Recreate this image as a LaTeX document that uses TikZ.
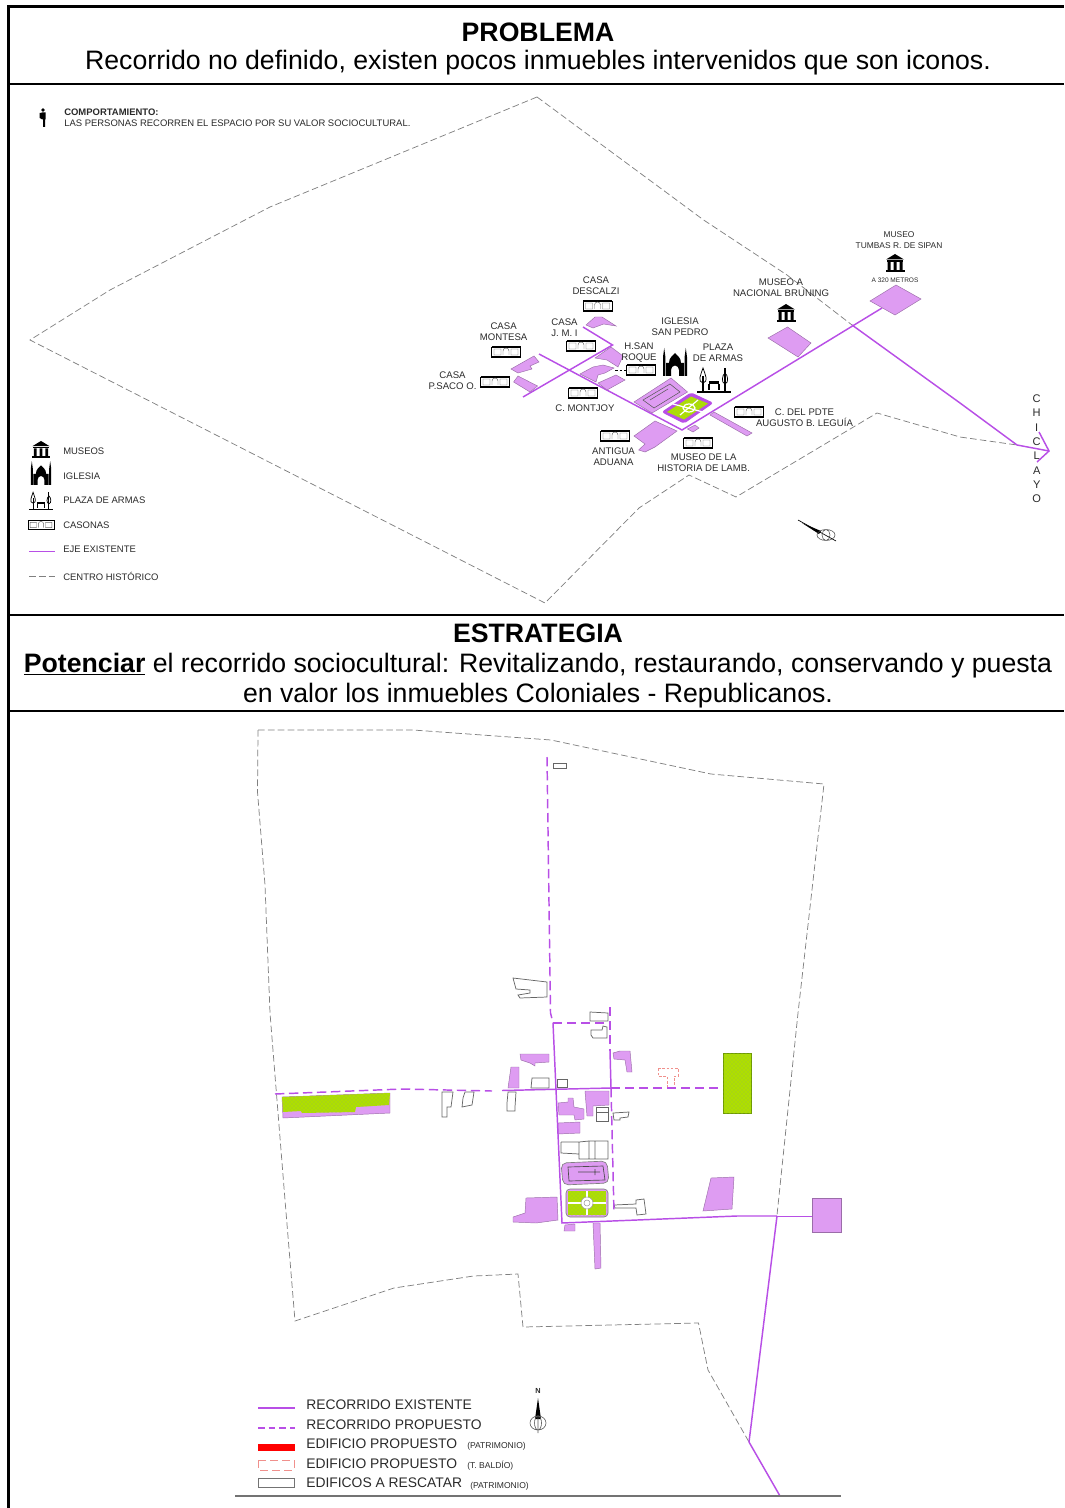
\documentclass[tikz,border=0pt]{standalone}
\usepackage{fontspec}
\setmainfont{Liberation Sans}
\usetikzlibrary{patterns}
\definecolor{viol}{HTML}{B84FE6}
\definecolor{lila}{HTML}{DE9CF2}
\definecolor{lima}{HTML}{AEE000}
\definecolor{limad}{HTML}{6E9A00}
\definecolor{rosa}{HTML}{F0908C}
\definecolor{tinta}{HTML}{2A2A2A}
\tikzset{
 rule/.style={black,line width=1.6pt},
 head/.style={inner sep=0pt,font=\fontsize{20}{22.7}\selectfont,align=center,text=black},
 lab/.style={inner sep=0pt,font=\fontsize{7.2}{8.5}\selectfont,align=center,text=tinta},
 leg/.style={inner sep=0pt,anchor=west,font=\fontsize{7.1}{8}\selectfont,text=tinta},
 legb/.style={inner sep=0pt,anchor=west,font=\fontsize{10.4}{12}\selectfont,text=tinta},
 legs/.style={inner sep=0pt,anchor=west,font=\fontsize{6.4}{7}\selectfont,text=tinta},
 limite/.style={draw=black!50,line width=.55pt,dash pattern=on 5pt off 2.4pt},
 eje/.style={draw=viol,line width=1.1pt},
 prop/.style={draw=viol,line width=1.1pt,dash pattern=on 7pt off 3.5pt},
 bloque/.style={fill=lila,draw=lila!70!black,line width=.35pt},
 hueco/.style={fill=white,draw=black!60,line width=.55pt},
 verde/.style={fill=lima,draw=limad,line width=.4pt},
 grano/.style={pattern=crosshatch dots,pattern color=limad!70},
 pics/casona/.style={code={
   \draw[black,line width=.45pt,fill=white] (-14.5,-5) rectangle (14.5,5);
   \draw[black,line width=.8pt] (-14.5,-5)--(14.5,-5) (-14.5,5)--(14.5,5);
   \draw[black!60,line width=.35pt] (-12,-3) rectangle (-5,3) (-3,3)--(-3,-1) arc (180:0:3 and -3)--(3,3) (5,-3) rectangle (12,3);
 }},
 pics/museo/.style={code={
   \fill[black] (-9,-3.5)--(0,-9)--(9,-3.5)--cycle;
   \fill[black] (-9.5,7) rectangle (9.5,9);
   \fill[black] (-8,-2.5) rectangle (8,-1.3);
   \fill[black] (-7.5,-1.3) rectangle (-4.5,7) (-1.5,-1.3) rectangle (1.5,7) (4.5,-1.3) rectangle (7.5,7);
 }},
 pics/iglesia/.style={code={
   \fill[black] (-12,14)--(-12,-5)--(-10.8,-14)--(-9.6,-5)--(-9.6,14)--cycle;
   \fill[black] (12,14)--(12,-5)--(10.8,-14)--(9.6,-5)--(9.6,14)--cycle;
   \fill[black] (-9,14)--(-9,1)--(-6,1) .. controls (-6,-5) and (-2,-6) .. (0,-9)
     .. controls (2,-6) and (6,-5) .. (6,1)--(9,1)--(9,14)--(4,14)--(4,8) arc (0:-180:4 and 4.5)--(-4,14)--cycle;
 }},
 pics/plaza/.style={code={
   \draw[black,line width=.55pt] (-11,3) .. controls (-17,2) and (-13,-6) .. (-11,-12) .. controls (-9,-6) and (-5,2) .. (-11,3);
   \draw[black,line width=.8pt] (-11,-4)--(-11,12);
   \draw[black,line width=.55pt] (11,4) .. controls (7,3) and (8,-5) .. (11,-7) .. controls (14,-5) and (15,3) .. (11,4);
   \draw[black,line width=.8pt] (11,-12)--(11,12);
   \fill[black] (-5,1) rectangle (5,4.5);
   \draw[black,line width=.8pt] (-5,4)--(-5,10) (5,4)--(5,10);
   \draw[black,line width=.9pt] (-17,12)--(17,12);
 }},
}
\begin{document}
\begin{tikzpicture}[x=.75pt,y=-.75pt]
\useasboundingbox (0,0) rectangle (1064,1508);
% ------------- frame
\draw[black,line width=2.3pt] (8.5,1508)--(8.5,6.5)--(1064,6.5);
\draw[rule] (8,84)--(1064,84) (8,615)--(1064,615) (8,711)--(1064,711);
% ------------- headers
\node[head] (t1) at (538,32) {\textbf{PROBLEMA}};
\node[head] (t2) at (538,62.5) {Recorrido no definido, existen pocos inmuebles intervenidos que son iconos.};
\node[head] (t3) at (538,633) {\textbf{ESTRATEGIA}};
\node[head] (t4) at (538,680.5) {\underline{\textbf{Potenciar}} el recorrido sociocultural: Revitalizando, restaurando, conservando y puesta\\en valor los inmuebles Coloniales - Republicanos.};
% ------------- upper map: limit
\draw[limite] (537,97)--(703.6,220)--(787,275)--(852,325);
\draw[limite] (537,97)--(270,207)--(110,290)--(30,340)--(545,603)--(639,508)--(689,475)--(736,497)--(877,413)--(960,437)--(1017,445);
% upper map: axes
\draw[eje] (882,308)--(682,430)--(539,354);
\draw[eje] (523,397)--(612.5,345)--(583,327);
\draw[eje] (852,325)--(960,403)--(1017,445)--(1049,451);
\draw[eje] (1039,432)--(1049,451)--(1037,462);
% upper map: buildings
\draw[bloque] (896,285)--(921,299)--(895,315)--(870,301)--cycle;
\draw[bloque] (787.5,327)--(811,343)--(798,357)--(768,338)--cycle;
\draw[bloque] (511,369)--(534,356)--(539,362)--(530,366)--(532,369)--(518,373)--cycle;
\draw[bloque] (518,376)--(537.5,386)--(530,392)--(513.6,382)--cycle;
\draw[bloque] (586,325)--(595,317)--(602,317)--(616,326)--(603.6,324)--(593,328)--cycle;
\draw[bloque] (595,358)--(611,347)--(623,356)--(618,367)--(607,360)--cycle;
\draw[bloque] (580,374)--(593,367)--(603,365)--(614,368)--(605,373)--(598,375)--(596,382)--cycle;
\draw[bloque] (598,383)--(616,375)--(625,380)--(607,390)--cycle;
\draw[bloque] (634,402)--(671,378)--(687.5,392)--(652,413)--cycle;
\draw[black!65,line width=.4pt] (643,400)--(670,384)--(680,392)--(654,408)--cycle (650,400)--(668,389);
\draw[viol,fill=viol,line width=.8pt,rounded corners=1.5pt] (662.5,412)--(691,393)--(712.5,403)--(684,423)--cycle;
\path[fill=lima] (667,412)--(691,396.5)--(708,403.5)--(684,419.5)--cycle;
\path[grano] (667,412)--(691,396.5)--(708,403.5)--(684,419.5)--cycle;
\draw[white,line width=.9pt] (689,408) ellipse (6 and 4) (673,404)--(703,412) (680,415)--(698,400);
\draw[bloque] (634,436)--(655,421)--(677,431)--(655,447)--(645,452)--(638.6,450)--(645,444)--cycle;
\draw[bloque] (687.5,429)--(695,425)--(699,428)--(693,432)--cycle;
\draw[bloque] (710,415)--(714,412)--(752,433)--(747,436)--cycle;
% upper map: icons
\pic at (597.5,306) {casona};
\pic at (581,346) {casona};
\pic at (506,352) {casona};
\pic at (495,382) {casona};
\pic at (583,393) {casona};
\pic at (641,370) {casona};
\pic at (749,412) {casona};
\pic at (615,436) {casona};
\pic at (698,443) {casona};
\draw[black,line width=.45pt,dash pattern=on 2pt off 1.5pt] (615,370)--(626,370);
\pic at (675,362) {iglesia};
\pic at (714,380) {plaza};
\pic at (786,313) {museo};
\pic at (895,263) {museo};
% upper map: labels
\node[lab] (n1) at (596,285.5) {CASA\\DESCALZI};
\node[lab] (n2) at (564.5,327.5) {CASA\\J. M. I};
\node[lab] (n3) at (503.6,331.5) {CASA\\MONTESA};
\node[lab] (n4) at (452.5,381) {CASA\\P.SACO O.};
\node[lab] (n5) at (585,408) {C. MONTJOY};
\node[lab] (n6) at (639,352.5) {H.SAN\\ROQUE};
\node[lab] (n7) at (680,326.5) {IGLESIA\\SAN PEDRO};
\node[lab] (n8) at (718,353) {PLAZA\\DE ARMAS};
\node[lab] (n9) at (781,288) {MUSEO A\\NACIONAL BRUNING};
\node[lab,font=\fontsize{6.3}{7.7}\selectfont] (n10) at (899,240) {MUSEO\\TUMBAS R. DE SIPAN};
\node[lab,font=\fontsize{4.9}{6}\selectfont] (n11) at (895,280) {A 320 METROS};
\node[lab] (n12) at (804.5,417.5) {C. DEL PDTE\\AUGUSTO B. LEGUÍA};
\node[lab] (n13) at (613.5,456.5) {ANTIGUA\\ADUANA};
\node[lab] (n14) at (703.6,462.5) {MUSEO DE LA\\HISTORIA DE LAMB.};
\node[inner sep=0pt,align=center,font=\fontsize{8.3}{10.75}\selectfont,text=tinta] (n15) at (1036.7,449) {C\\H\\I\\C\\L\\A\\Y\\O};
% upper map: compass
\draw[black,line width=.5pt] (798,520)--(836,541);
\fill[black] (802,523)--(821,531)--(819,534)--cycle;
\draw[black!70,line width=.4pt] (826,535) ellipse (9 and 5.5) (826,535) ellipse (4 and 5.5);
% upper map: behaviour note
\fill[black] (43,110) circle (1.8);
\fill[black] (41.5,112.5) rectangle (45.5,119.5) (39.5,113)--(41.5,113)--(41.5,119)--(39.5,118)--cycle (43,119) rectangle (45,127);
\node[leg,font=\fontsize{7.1}{8}\selectfont\bfseries] (c1) at (64,112) {COMPORTAMIENTO:};
\node[leg] (c2) at (64,123.5) {LAS PERSONAS RECORREN EL ESPACIO POR SU VALOR SOCIOCULTURAL.};
% upper map: legend
\pic[scale=.95] at (41,449.5) {museo};
\pic[scale=.85] at (41,473) {iglesia};
\pic[scale=.72] at (41,501) {plaza};
\pic[scale=.9] at (41,525) {casona};
\draw[eje] (29,551.5)--(55,551.5);
\draw[limite] (29,576)--(55,576);
\node[leg] (l1) at (63,451) {MUSEOS};
\node[leg] (l2) at (63,476) {IGLESIA};
\node[leg] (l3) at (63,500) {PLAZA DE ARMAS};
\node[leg] (l4) at (63,525) {CASONAS};
\node[leg] (l5) at (63,549.5) {EJE EXISTENTE};
\node[leg] (l6) at (63,576) {CENTRO HISTÓRICO};
% ------------- lower map: limit
\draw[limite] (258,730)--(413,730)--(551,740)--(711,774)--(824,784)--(798,1013)--(777,1215);
\draw[limite] (258,730)--(257.5,792)--(265,885)--(270,1013)--(285,1200)--(295,1321)--(394,1288)--(473.5,1276)--(518,1274)--(523,1327)--(698.5,1323)--(708,1370)--(749,1442);
% lower map: buildings
\draw[hueco] (553,763) rectangle (566,768);
\draw[hueco] (513,978)--(547,982)--(547,997)--(520,998)--(518,995)--(530,993)--(530,990)--(516,989)--cycle;
\draw[hueco] (590,1012)--(608,1013)--(608,1021)--(590,1021)--cycle;
\draw[hueco] (591,1030)--(602,1030)--(603,1026)--(607,1027)--(607,1038)--(593,1038)--(591,1035)--cycle;
\draw[bloque] (520,1054)--(549,1054)--(549,1062)--(535,1063)--(535,1066)--(530,1063)--(521,1060)--cycle;
\draw[bloque] (511,1067)--(519,1067)--(519,1088)--(508,1088)--cycle;
\draw[hueco] (532,1078)--(549,1078)--(549,1088)--(531,1088)--cycle;
\draw[hueco] (557,1079) rectangle (567,1087);
\draw[bloque] (613,1053)--(620,1051)--(630,1051)--(632,1072)--(627,1072)--(625,1060)--(614,1059)--cycle;
\draw[rosa,line width=.5pt,dash pattern=on 2pt off 1.2pt] (658,1068)--(678,1068)--(678,1076)--(674,1076)--(674,1088)--(667,1088)--(667,1076)--(658,1076)--cycle;
\draw[bloque] (585,1091)--(609,1091)--(609,1105)--(593,1106)--(593,1116)--(587,1116)--cycle;
\draw[hueco] (596,1107)--(608,1107)--(608,1121)--(596,1121)--cycle (596,1112)--(608,1112);
\draw[hueco] (613,1113)--(629,1112)--(628,1117)--(620,1118)--(620,1120)--(614,1120)--cycle;
\draw[bloque] (568,1098)--(573,1098)--(574,1107)--(584,1109)--(584,1119)--(575,1120)--(574,1115)--(559,1115)--(558,1103)--(568,1102)--cycle;
\draw[bloque] (558,1123)--(580,1122)--(580,1133)--(558,1134)--cycle;
\draw[hueco] (561,1142)--(579,1142)--(579,1159)--(608,1159)--(608,1141)--(589,1141)--(589,1159) (579,1142)--(589,1141) (561,1142)--(561,1153)--(579,1154) (595,1141)--(595,1159);
\draw[bloque,draw=black!50,line width=.5pt,rounded corners=4pt] (561,1163)--(607,1161)--(609,1183)--(563,1185)--cycle;
\draw[black!70,line width=.5pt] (568,1167)--(603,1166)--(605,1180)--(569,1181)--cycle (578,1172)--(600,1172) (595,1169)--(595,1175);
\draw[fill=lila,draw=black!50,line width=.5pt,rounded corners=3pt] (566,1189) rectangle (608,1217);
\path[fill=lima] (568,1191) rectangle (606,1215);
\path[grano] (568,1191) rectangle (606,1215);
\draw[white,line width=1pt] (587,1191)--(587,1215) (568,1203)--(606,1203);
\draw[fill=white,draw=black!40,line width=.4pt] (587,1203) circle (6);
\draw[black!40,line width=.4pt] (587,1203) circle (3);
\draw[bloque] (526,1198)--(557,1197)--(558,1220)--(536,1223)--(513,1222)--(513,1217)--(525,1213)--cycle;
\draw[bloque] (565,1225)--(575,1224)--(575,1231)--(564,1231)--cycle;
\draw[bloque] (593,1223)--(600,1223)--(601,1268)--(595,1269)--cycle;
\draw[hueco] (614,1205)--(636,1204)--(636,1200)--(644,1199)--(646,1214)--(637,1215)--(636,1208)--(615,1208)--cycle;
\draw[bloque] (711,1178)--(734,1177)--(732,1209)--(703,1211)--cycle;
\draw[bloque] (812,1198) rectangle (841,1232);
\draw[hueco] (442,1092)--(453,1092)--(451,1107)--(447,1107)--(447,1117)--(442,1117)--cycle;
\draw[hueco] (465,1092)--(474,1092)--(472,1105)--(462,1107)--(463,1098)--cycle;
\draw[hueco] (508,1092)--(516,1092)--(515,1107)--(515,1111)--(507,1111)--(507,1103)--cycle;
% lower map: green plots
\draw[verde,fill=lima] (723.7,1053) rectangle (751.7,1113);
\path[grano] (723.7,1053) rectangle (751.7,1113);
\draw[bloque] (282,1097)--(390,1093)--(390,1113)--(283,1118)--cycle;
\path[fill=lima] (282,1097)--(390,1093)--(389,1105)--(356,1107)--(355,1112)--(302,1113)--(301,1111)--(283,1112)--cycle;
\path[grano] (282,1097)--(390,1093)--(389,1105)--(356,1107)--(355,1112)--(302,1113)--(301,1111)--(283,1112)--cycle;
% lower map: routes
\draw[prop] (547,757)--(550.5,1013)--(553,1023);
\draw[prop] (553,1023)--(610,1023);
\draw[prop] (610,1007)--(610,1051);
\draw[eje] (610,1051)--(611,1088);
\draw[prop] (611,1088)--(614,1213);
\draw[eje] (553,1023)--(562,1223)--(737,1216)--(777,1216);
\draw[viol,line width=.6pt] (777,1216)--(812,1216);
\draw[eje] (777,1216)--(749,1442)--(780,1496);
\draw[prop] (275,1094)--(402,1089)--(492,1091);
\draw[eje] (502,1090.5)--(611,1088);
\draw[prop] (611,1088)--(723,1088);
% lower map: legend
\draw[eje] (258,1408)--(295,1408);
\draw[prop,line width=.8pt,dash pattern=on 5pt off 3pt] (258,1428)--(295,1428);
\fill[red] (258,1444) rectangle (295,1451);
\draw[rosa,line width=.5pt,dash pattern=on 6pt off 3pt] (258,1460) rectangle (294,1470);
\draw[black!55,line width=.5pt] (258,1478) rectangle (294,1487);
\draw[black!55,line width=.9pt] (235,1496)--(841,1496);
\node[legb] (r1) at (306,1405) {RECORRIDO EXISTENTE};
\node[legb] (r2) at (306,1424.5) {RECORRIDO PROPUESTO};
\node[legb] (r3) at (306,1444) {EDIFICIO PROPUESTO};
\node[legb] (r4) at (306,1463.5) {EDIFICIO PROPUESTO};
\node[legb] (r5) at (306,1483) {EDIFICOS A RESCATAR};
\node[legs] (s3) at (467,1446) {(PATRIMONIO)};
\node[legs] (s4) at (467,1466) {(T. BALDÍO)};
\node[legs] (s5) at (470,1486) {(PATRIMONIO)};
% lower map: north arrow
\node[inner sep=0pt,font=\fontsize{5.5}{6}\selectfont\bfseries,text=tinta] (nn) at (538,1391) {N};
\fill[black] (538,1398)--(541,1419)--(535,1419)--cycle;
\draw[black!65,line width=.45pt] (538,1415)--(538,1433) (538,1423) ellipse (8 and 7) (538,1423) ellipse (3.5 and 7);
\end{tikzpicture}
\end{document}
